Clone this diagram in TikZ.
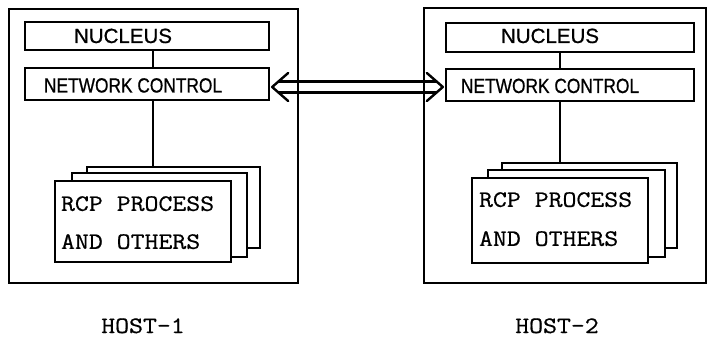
\documentclass[tikz,border=0pt]{standalone}
\usepackage{fontspec}
\setmainfont[FakeBold=0.7]{Liberation Sans}
\newfontfamily\condsans[FakeStretch=0.845,FakeBold=0.7]{Liberation Sans}
\newfontfamily\typew[FakeStretch=1.15,FakeBold=0.6]{Latin Modern Mono}
\usetikzlibrary{calc}
\begin{document}
\begin{tikzpicture}[x=1pt,y=-1pt,
  box/.style={draw, line width=2.3pt, inner sep=0pt, fill=white},
  hostbox/.style={draw, line width=2.3pt},
  nuctxt/.style={inner sep=0pt, font=\fontsize{20.5}{24}\selectfont},
  nctxt/.style={inner sep=0pt, font=\condsans\fontsize{20.5}{24}\selectfont},
  monotxt/.style={inner sep=0pt, font=\typew\fontsize{23.5}{28}\selectfont},
  link/.style={line width=2.3pt},
  arr/.style={line width=2.4pt, line cap=round, line join=round}]
\useasboundingbox (0,0) rectangle (709,342);

% ---------- HOST-1 ----------
\draw[hostbox] (9,9) rectangle (298,283);
\node[box, minimum width=244pt, minimum height=28pt] (nuc1) at (147,36) {};
\node[box, minimum width=244pt, minimum height=32pt] (nc1) at (147,84) {};
\node[nuctxt, anchor=base west] (nuc1t) at ($(nuc1.west)+(50,7)$) {NUCLEUS};
\node[nctxt, anchor=base west] (nc1t) at ($(nc1.west)+(20,8.5)$) {NETWORK CONTROL};
\node[box, minimum width=173pt, minimum height=81pt] (back1) at (173.5,207.5) {};
\node[box, minimum width=175pt, minimum height=84pt] (mid1) at (159.5,215) {};
\node[box, minimum width=176pt, minimum height=81pt] (front1) at (143,221.5) {};
\node[monotxt, anchor=base west] (rcp1) at ($(front1.north west)+(7,31)$) {RCP PROCESS};
\node[monotxt, anchor=base west] (and1) at ($(front1.north west)+(7,69)$) {AND OTHERS};
\coordinate (v1) at (153,0);
\draw[link] (nuc1.south -| v1) -- (nc1.north -| v1);
\draw[link] (nc1.south -| v1) -- (back1.north -| v1);
\node[monotxt, anchor=base] (host1) at (143,333) {HOST-1};

% ---------- HOST-2 ----------
\draw[hostbox] (424,8) rectangle (706,283);
\node[box, minimum width=248pt, minimum height=29pt] (nuc2) at (570,37.5) {};
\node[box, minimum width=248pt, minimum height=32pt] (nc2) at (570,85) {};
\node[nuctxt, anchor=base west] (nuc2t) at ($(nuc2.west)+(56,5.5)$) {NUCLEUS};
\node[nctxt, anchor=base west] (nc2t) at ($(nc2.west)+(16,8)$) {NETWORK CONTROL};
\node[box, minimum width=175pt, minimum height=85pt] (back2) at (589.5,205.5) {};
\node[box, minimum width=177pt, minimum height=87pt] (mid2) at (576.5,213.5) {};
\node[box, minimum width=176pt, minimum height=85pt] (front2) at (560,220.5) {};
\node[monotxt, anchor=base west] (rcp2) at ($(front2.north west)+(8,30)$) {RCP PROCESS};
\node[monotxt, anchor=base west] (and2) at ($(front2.north west)+(8,69)$) {AND OTHERS};
\coordinate (v2) at (560,0);
\draw[link] (nuc2.south -| v2) -- (nc2.north -| v2);
\draw[link] (nc2.south -| v2) -- (back2.north -| v2);
\node[monotxt, anchor=base] (host2) at (557,333) {HOST-2};

% ---------- double arrow ----------
\coordinate (ya) at (0,87);
\coordinate (L) at ($(nc1.east |- ya)+(2,0)$);
\coordinate (R) at ($(nc2.west |- ya)+(-2,0)$);
\draw[arr] ($(L)+(16,-14)$) -- (L) -- ($(L)+(16,14)$);
\draw[arr] ($(R)+(-16,-14)$) -- (R) -- ($(R)+(-16,14)$);
\draw[arr] ($(L)+(6.3,-5.5)$) -- ($(R)+(-6.3,-5.5)$);
\draw[arr] ($(L)+(6.3,5.5)$) -- ($(R)+(-6.3,5.5)$);
\end{tikzpicture}
\end{document}
